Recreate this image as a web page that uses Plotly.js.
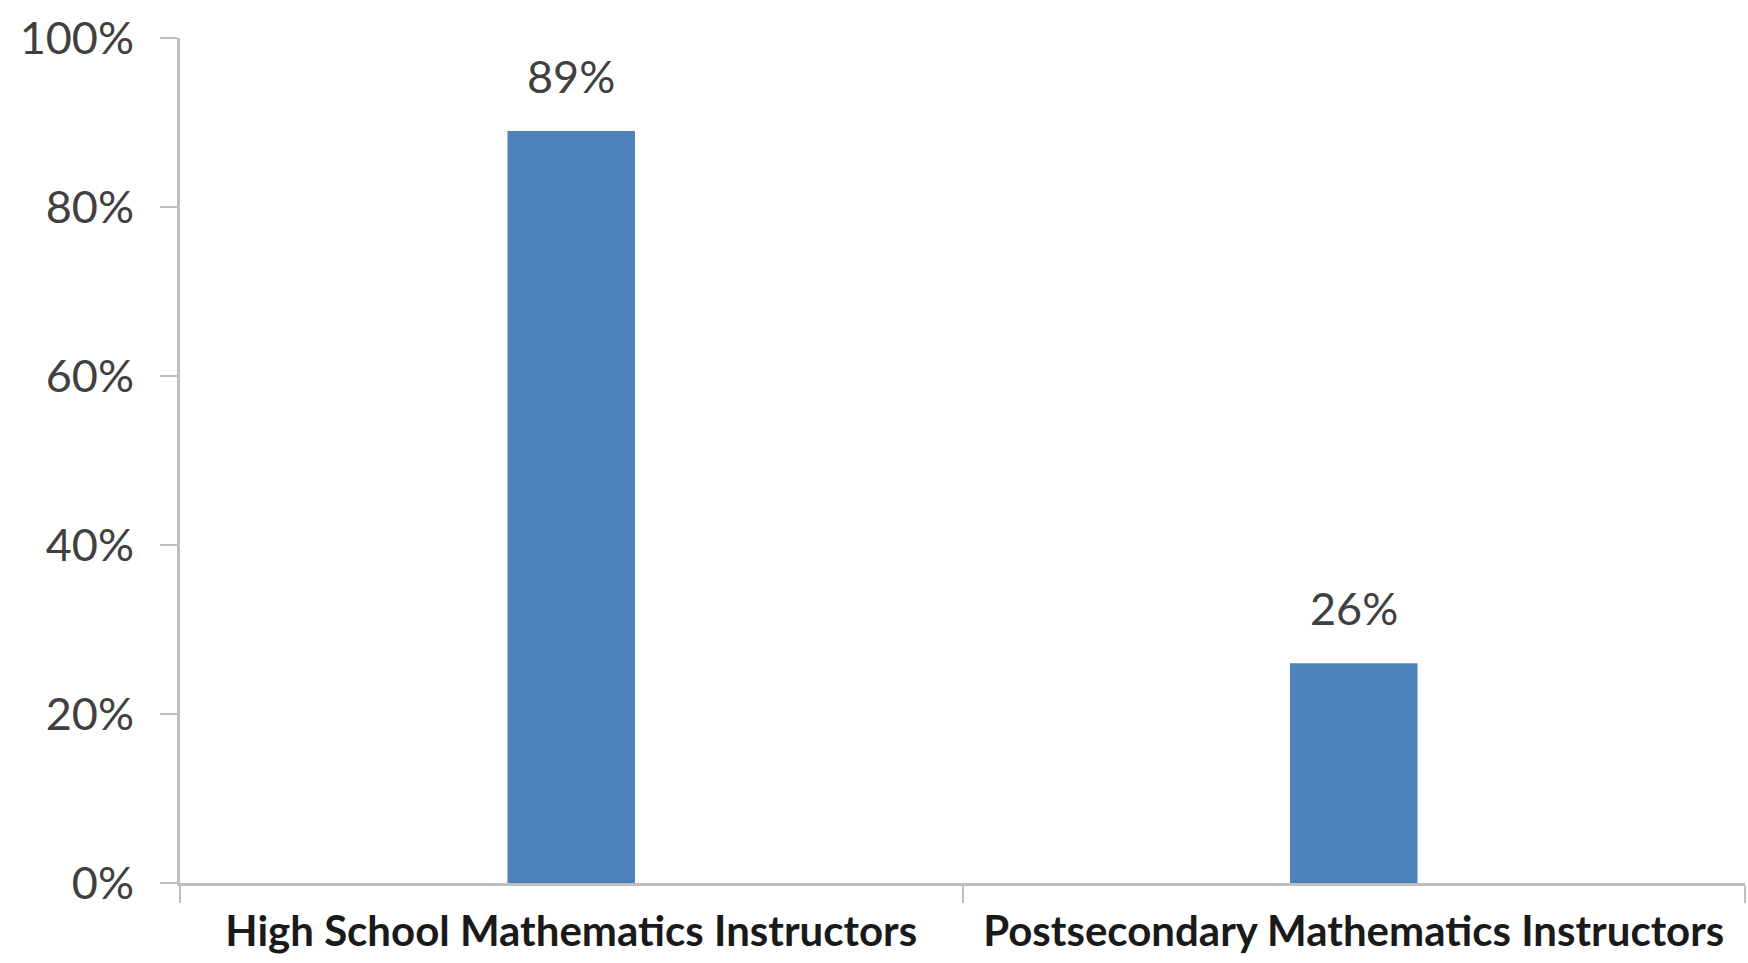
<!DOCTYPE html>
<html>
<head>
<meta charset="utf-8">
<script src="https://cdn.plot.ly/plotly-3.0.1.min.js"></script>
<style>html,body{margin:0;padding:0;background:#fff;}#chart{width:1748px;height:963px;}</style>
</head>
<body>
<div id="chart"></div>
<script>
const categories = ["High School Mathematics Instructors", "Postsecondary Mathematics Instructors"];
const values = [0.89, 0.26];
const valueLabels = ["89%", "26%"];
const yTickVals = [0, 0.2, 0.4, 0.6, 0.8, 1.0];
const yTickText = ["0%", "20%", "40%", "60%", "80%", "100%"];

const axisColor = "#BFBFBF";
const trace = {
  type: "bar",
  x: categories,
  y: values,
  marker: {color: "#4F81BD"},
  hoverinfo: "none"
};

const annotations = categories.map((c, i) => ({
  x: c, y: values[i], xref: "x", yref: "y",
  text: valueLabels[i], showarrow: false,
  yanchor: "bottom", yshift: 26,
  font: {family: "Lato, 'Open Sans', sans-serif", size: 45, color: "#404040"}
}));

const layout = {
  width: 1748, height: 963,
  margin: {l: 180, r: 3, t: 38, b: 80},
  paper_bgcolor: "#ffffff", plot_bgcolor: "#ffffff",
  showlegend: false,
  bargap: 0.837,
  xaxis: {
    type: "category",
    showline: true, linecolor: axisColor, linewidth: 3,
    ticks: "outside", tickson: "boundaries", ticklen: 17, tickwidth: 2, tickcolor: axisColor,
    showgrid: false, zeroline: false,
    tickfont: {family: "Lato, 'Open Sans', sans-serif", size: 42, color: "#1a1a1a", weight: "bold"},
    ticklabelstandoff: 10
  },
  yaxis: {
    range: [0, 1],
    tickvals: yTickVals, ticktext: yTickText,
    showline: true, linecolor: axisColor, linewidth: 3,
    ticks: "outside", ticklen: 17, tickwidth: 2, tickcolor: axisColor,
    showgrid: false, zeroline: false,
    tickfont: {family: "Lato, 'Open Sans', sans-serif", size: 45, color: "#404040"},
    ticklabelstandoff: 17
  },
  annotations: annotations
};

Plotly.newPlot("chart", [trace], layout, {displayModeBar: false, staticPlot: true});
</script>
</body>
</html>
